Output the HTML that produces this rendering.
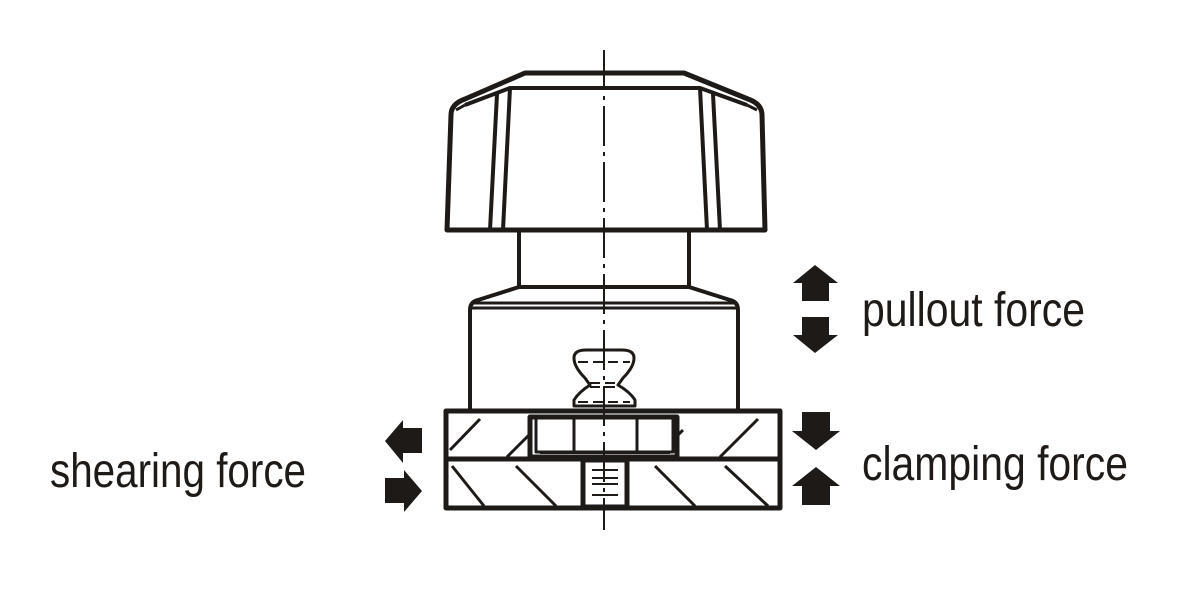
<!DOCTYPE html>
<html><head><style>body{margin:0;background:#fff}svg{display:block}</style></head><body>
<svg width="1200" height="600" viewBox="0 0 1200 600" xmlns="http://www.w3.org/2000/svg">
<g fill="none" stroke="#1e1a18" stroke-linejoin="round">
<path d="M525 73 L684 73 L748 99 Q762 104 762 115 L765 230 L447 230 L451 115 Q451 104 465 99 Z" stroke-width="5"/>
<path d="M465 105 L510 88 L700 88 L747 105" stroke-width="4"/>
<path d="M510 88 L503 230 M497 94 L490 230 M700 88 L707 230 M713 94 L720 230" stroke-width="4"/>
<path d="M456 110 L465 105 M747 105 L757 110" stroke-width="3"/>
<path d="M519 230 L519 287 M689 230 L689 287" stroke-width="4"/>
<path d="M519 287 L689 287 L730 300 Q738 302 738 310 L738 410 M519 287 L478 300 Q470 302 470 310 L470 410" stroke-width="4"/>
<path d="M472 303 L736 303 M472 308 L736 308" stroke-width="3"/>
<path d="M586 350 L622 350 Q634 350 634 358 Q634 367 623 378 L618 385 Q630 392 635 400 L635 406 L574 406 L574 400 Q579 392 590 385 L585 378 Q574 367 574 358 Q574 350 586 350 Z" stroke-width="3"/>
<path d="M578 362 L630 362 M590 383 L618 383 M590 387 L618 387 M578 402 L630 402" stroke-width="2" stroke-dasharray="10 5"/>
<rect x="446" y="411" width="334" height="97" stroke-width="5"/>
<path d="M446 459 L780 459" stroke-width="5"/>
<rect x="530" y="417" width="147" height="40" stroke-width="5"/>
<path d="M536 419 L536 452 L673 452 L673 419 M574 419 L574 452 M637 419 L637 452" stroke-width="3"/>
<path d="M540 453 L670 453" stroke-width="2"/>
<rect x="583" y="460" width="44" height="47" stroke-width="5"/>
<path d="M592 470 L618 470 M592 478 L618 478 M592 484 L618 484 M592 495 L618 495" stroke-width="2"/>
<path d="M450 450 L480 419 M507 457 L530 434 M676 437 L683 430 M720 457 L758 419 M452 466 L484 506 M516 466 L556 506 M655 466 L695 506 M725 466 L768 506" stroke-width="3"/>
<path d="M604 50 L604 530" stroke="#1e1a18" stroke-width="2" stroke-dasharray="40 6 4 6"/>
</g>
<g fill="#1e1a18">
<path d="M815 265 L838 283 L829 283 L829 301 L802 301 L802 283 L793 283 Z"/>
<path d="M815 353 L838 335 L829 335 L829 317 L802 317 L802 335 L793 335 Z"/>
<path d="M816 450 L840 431 L830 431 L830 412 L802 412 L802 431 L792 431 Z"/>
<path d="M816 467 L840 486 L830 486 L830 505 L802 505 L802 486 L792 486 Z"/>
<path d="M385 441 L403 420 L403 428 L422 428 L422 453 L403 453 L403 463 Z"/>
<path d="M422 491 L404 470 L404 478 L385 478 L385 503 L404 503 L404 512 Z"/>
</g>
<g font-family="Liberation Sans, sans-serif" font-size="48" fill="#1e1a18">
<text x="862" y="326" textLength="223" lengthAdjust="spacingAndGlyphs">pullout force</text>
<text x="862" y="480" textLength="266" lengthAdjust="spacingAndGlyphs">clamping force</text>
<text x="50" y="487" textLength="256" lengthAdjust="spacingAndGlyphs">shearing force</text>
</g>
</svg>
</body></html>
